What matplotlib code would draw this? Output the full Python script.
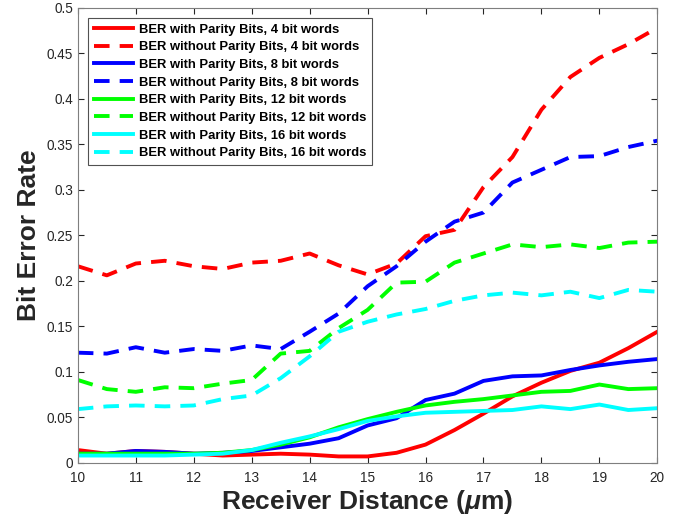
import numpy as np
import matplotlib
matplotlib.use("Agg")
import matplotlib.pyplot as plt

plt.rcParams['font.family'] = ['Liberation Sans', 'DejaVu Sans']
plt.rcParams['mathtext.fontset'] = 'custom'
plt.rcParams['mathtext.it'] = 'Liberation Sans:italic:bold'
plt.rcParams['mathtext.rm'] = 'Liberation Sans:bold'

# ------------------------------------------------------------
# Data
# ------------------------------------------------------------

distance = [10, 10.5, 11, 11.5, 12, 12.5, 13, 13.5, 14, 14.5, 15,
            15.5, 16, 16.5, 17, 17.5, 18, 18.5, 19, 19.5, 20]

ber_par_4 = [0.014, 0.010, 0.013, 0.012, 0.010, 0.008, 0.009, 0.010, 0.009, 0.007, 0.007,
             0.011, 0.020, 0.036, 0.054, 0.073, 0.088, 0.101, 0.110, 0.126, 0.144]
ber_nopar_4 = [0.216, 0.206, 0.219, 0.222, 0.216, 0.213, 0.220, 0.222, 0.230, 0.217, 0.207,
               0.219, 0.249, 0.256, 0.303, 0.336, 0.388, 0.424, 0.445, 0.460, 0.478]

ber_par_8 = [0.010, 0.010, 0.013, 0.012, 0.010, 0.011, 0.013, 0.017, 0.021, 0.027, 0.041,
             0.049, 0.069, 0.076, 0.090, 0.095, 0.096, 0.102, 0.107, 0.111, 0.114]
ber_nopar_8 = [0.121, 0.120, 0.127, 0.121, 0.125, 0.123, 0.129, 0.125, 0.144, 0.164, 0.194,
               0.216, 0.243, 0.265, 0.275, 0.308, 0.322, 0.336, 0.337, 0.347, 0.354]

ber_par_12 = [0.010, 0.010, 0.010, 0.010, 0.010, 0.011, 0.014, 0.020, 0.028, 0.039, 0.048,
              0.056, 0.063, 0.067, 0.070, 0.074, 0.078, 0.079, 0.086, 0.081, 0.082]
ber_nopar_12 = [0.091, 0.081, 0.078, 0.083, 0.082, 0.087, 0.091, 0.120, 0.123, 0.148, 0.168,
                0.198, 0.199, 0.220, 0.230, 0.240, 0.237, 0.240, 0.236, 0.242, 0.243]

ber_par_16 = [0.008, 0.008, 0.008, 0.008, 0.009, 0.010, 0.014, 0.022, 0.029, 0.037, 0.046,
              0.051, 0.055, 0.056, 0.057, 0.058, 0.062, 0.059, 0.064, 0.058, 0.060]
ber_nopar_16 = [0.059, 0.062, 0.063, 0.062, 0.063, 0.070, 0.074, 0.093, 0.117, 0.144, 0.155,
                0.163, 0.169, 0.178, 0.184, 0.187, 0.184, 0.188, 0.181, 0.190, 0.188]

series = [
    (ber_par_4, 'BER with Parity Bits, 4 bit words', 'red', '-'),
    (ber_nopar_4, 'BER without Parity Bits, 4 bit words', 'red', '--'),
    (ber_par_8, 'BER with Parity Bits, 8 bit words', 'blue', '-'),
    (ber_nopar_8, 'BER without Parity Bits, 8 bit words', 'blue', '--'),
    (ber_par_12, 'BER with Parity Bits, 12 bit words', '#00ff00', '-'),
    (ber_nopar_12, 'BER without Parity Bits, 12 bit words', '#00ff00', '--'),
    (ber_par_16, 'BER with Parity Bits, 16 bit words', 'cyan', '-'),
    (ber_nopar_16, 'BER without Parity Bits, 16 bit words', 'cyan', '--'),
]

yticks = [0, 0.05, 0.1, 0.15, 0.2, 0.25, 0.3, 0.35, 0.4, 0.45, 0.5]
ytick_labels = ['0', '0.05', '0.1', '0.15', '0.2', '0.25', '0.3', '0.35', '0.4', '0.45', '0.5']

# ------------------------------------------------------------
# Plot
# ------------------------------------------------------------

fig = plt.figure(figsize=(6.89, 5.2), dpi=100)
ax = fig.add_axes([0.113, 0.110, 0.841, 0.875])

for values, label, color, style in series:
    line, = ax.plot(distance, values, color=color, linestyle=style,
                    linewidth=2.8, label=label)
    if style == '--':
        line.set_dashes([4, 2.6])

ax.set_xlim(10, 20)
ax.set_ylim(0, 0.5)
ax.set_xticks(range(10, 21))
ax.set_yticks(yticks)
ax.set_yticklabels(ytick_labels)

axis_gray = '#262626'
for spine in ax.spines.values():
    spine.set_color('#7f7f7f')
    spine.set_linewidth(0.8)
ax.tick_params(direction='in', top=True, right=True, length=4,
               labelsize=9.8, colors=axis_gray, width=0.8)
ax.tick_params(axis='x', pad=6)

ax.set_xlabel(r'Receiver Distance ($\mu$m)', fontsize=19, fontweight='bold',
              color=axis_gray, labelpad=2)
ax.set_ylabel('Bit Error Rate', fontsize=19, fontweight='bold',
              color=axis_gray, labelpad=4)

leg = ax.legend(loc='upper left', bbox_to_anchor=(0.017, 0.978),
                prop={'weight': 'bold', 'size': 9.4}, frameon=True,
                fancybox=False, handlelength=3.0, handletextpad=0.45,
                labelspacing=0.42, borderpad=0.45, borderaxespad=0)
leg.get_frame().set_edgecolor(axis_gray)
leg.get_frame().set_linewidth(0.8)

fig.savefig('out.png', dpi=100)
